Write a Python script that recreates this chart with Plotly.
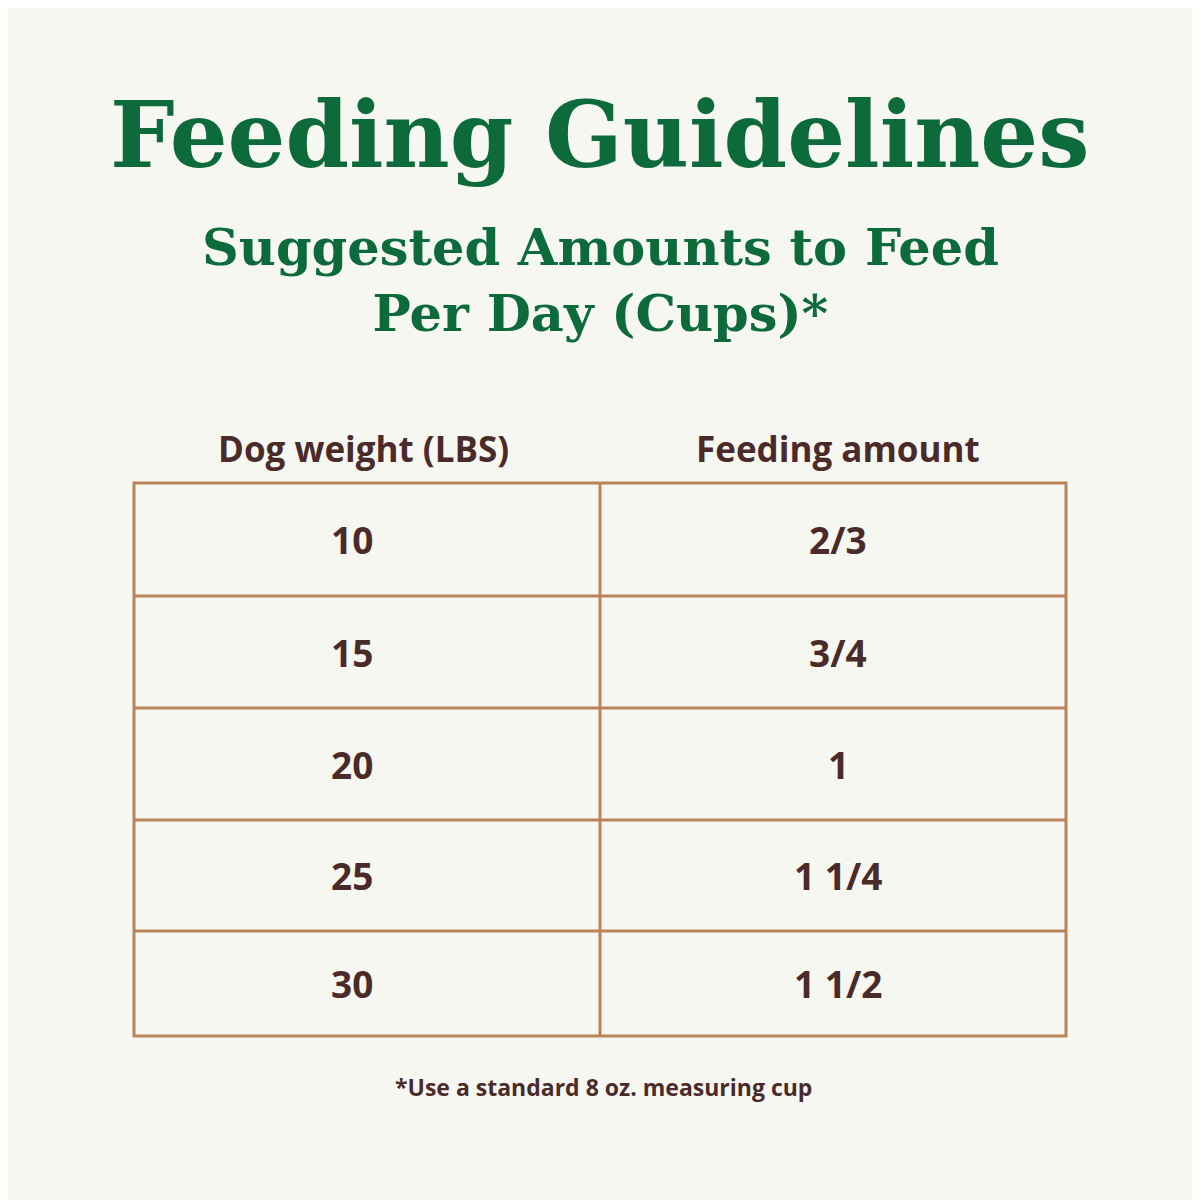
import plotly.graph_objects as go

title = "Feeding Guidelines"
subtitle = "Suggested Amounts to Feed<br>Per Day (Cups)*"
headers = ["Dog weight (LBS)", "Feeding amount"]
weights = ["10", "15", "20", "25", "30"]
amounts = ["2/3", "3/4", "1", "1 1/4", "1 1/2"]
footnote = "*Use a standard 8 oz. measuring cup"

BG = "#f7f7f2"
GREEN = "#0d6a3b"
BROWN = "#4b2b2a"
LINE = "#b98459"

x0, xm, x1 = 134, 600, 1066
row_tops = [483, 596, 708, 820, 931, 1036]

fig = go.Figure()

# table grid
shapes = [dict(type="rect", x0=x0, x1=x1, y0=row_tops[0], y1=row_tops[-1],
               line=dict(color=LINE, width=3))]
shapes.append(dict(type="line", x0=xm, x1=xm, y0=row_tops[0], y1=row_tops[-1],
                   line=dict(color=LINE, width=3)))
for y in row_tops[1:-1]:
    shapes.append(dict(type="line", x0=x0, x1=x1, y0=y, y1=y,
                       line=dict(color=LINE, width=3)))

sans = "Open Sans, Lato, sans-serif"
ann = [
    dict(x=600, y=135, text=f"<b>{title}</b>", font=dict(family="DejaVu Serif", size=91, color=GREEN)),
    dict(x=600, y=280, text=f"<b>{subtitle}</b>", font=dict(family="DejaVu Serif", size=51, color=GREEN)),
    dict(x=363, y=448, text=f"<b>{headers[0]}</b>", font=dict(family=sans, size=35, color=BROWN)),
    dict(x=838, y=448, text=f"<b>{headers[1]}</b>", font=dict(family=sans, size=35, color=BROWN)),
    dict(x=603, y=1087, text=f"<b>{footnote}</b>", font=dict(family=sans, size=23, color=BROWN)),
]
for i, (w, a) in enumerate(zip(weights, amounts)):
    yc = (row_tops[i] + row_tops[i + 1]) / 2
    ann.append(dict(x=352, y=yc, text=f"<b>{w}</b>", font=dict(family=sans, size=37, color=BROWN)))
    ann.append(dict(x=838, y=yc, text=f"<b>{a}</b>", font=dict(family=sans, size=37, color=BROWN)))
for a in ann:
    a.update(xref="x", yref="y", showarrow=False, xanchor="center", yanchor="middle")

fig.update_layout(
    width=1200, height=1200, margin=dict(l=0, r=0, t=0, b=0),
    paper_bgcolor=BG, plot_bgcolor=BG, shapes=shapes, annotations=ann,
    xaxis=dict(range=[8, 1208], visible=False, fixedrange=True),
    yaxis=dict(range=[1208, 8], visible=False, fixedrange=True),
    showlegend=False,
)
fig.write_html("out.html")
